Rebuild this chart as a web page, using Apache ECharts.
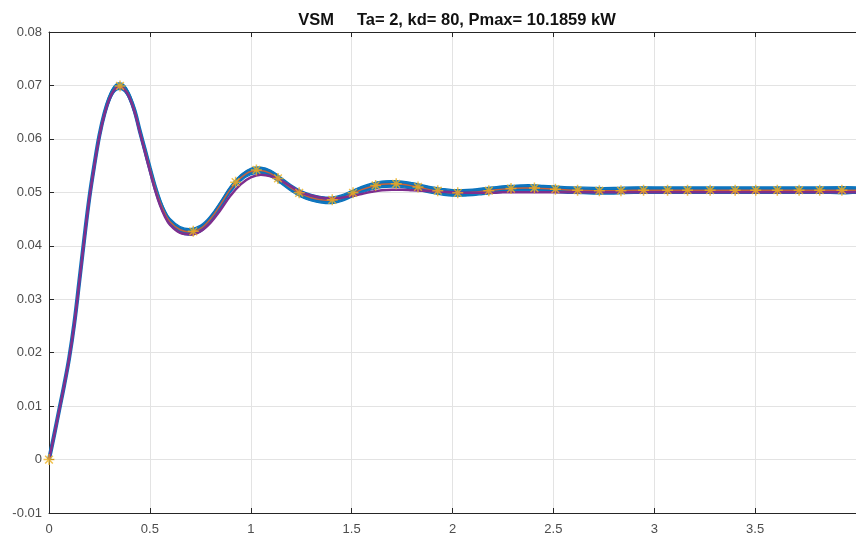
<!DOCTYPE html>
<html>
<head>
<meta charset="utf-8">
<script src="https://cdn.jsdelivr.net/npm/echarts@6/dist/echarts.min.js"></script>
<style>
  html, body { margin: 0; padding: 0; background: #fff; }
  #chart { width: 856px; height: 536px; }
</style>
</head>
<body>
<div id="chart"></div>
<script>
// Time samples (s)
const time = [0, 0.025, 0.05, 0.075, 0.1, 0.125, 0.15, 0.175, 0.2, 0.225, 0.25, 0.275, 0.3, 0.325, 0.35, 0.375, 0.4, 0.425, 0.45, 0.475, 0.5, 0.525, 0.55, 0.575, 0.6, 0.65, 0.7, 0.75, 0.8, 0.85, 0.9, 0.95, 1.0, 1.05, 1.1, 1.15, 1.2, 1.25, 1.3, 1.35, 1.4, 1.45, 1.5, 1.55, 1.6, 1.65, 1.7, 1.75, 1.8, 1.85, 1.9, 1.95, 2.0, 2.05, 2.1, 2.15, 2.2, 2.25, 2.3, 2.35, 2.4, 2.45, 2.5, 2.6, 2.7, 2.8, 2.9, 3.0, 3.2, 3.4, 3.6, 3.8, 4.0];

// VSM response (blue band and red trace)
const vsmResponse = [0, 0.0045, 0.0092, 0.0139, 0.0190, 0.0254, 0.0333, 0.0414, 0.0490, 0.0552, 0.0607, 0.0648, 0.0677, 0.0694, 0.0699, 0.0694, 0.0678, 0.0652, 0.0615, 0.0580, 0.0545, 0.0511, 0.0482, 0.0460, 0.0445, 0.0430, 0.0426, 0.0432, 0.0450, 0.0477, 0.0506, 0.0527, 0.0539, 0.0541, 0.0535, 0.0522, 0.0508, 0.0497, 0.0490, 0.0486, 0.0485, 0.0489, 0.0497, 0.0505, 0.0511, 0.0515, 0.0516, 0.0515, 0.0512, 0.0508, 0.0504, 0.0501, 0.0499, 0.0499, 0.0500, 0.0502, 0.0504, 0.0506, 0.0507, 0.0508, 0.0508, 0.0507, 0.0506, 0.0504, 0.0503, 0.0503, 0.0504, 0.0504, 0.0504, 0.0504, 0.0504, 0.0504, 0.0504];

// Reference model response (purple trace)
const modelResponse = [0, 0.0044, 0.0091, 0.0138, 0.0189, 0.0252, 0.0331, 0.0412, 0.0488, 0.0550, 0.0605, 0.0646, 0.0675, 0.0692, 0.0697, 0.0692, 0.0676, 0.0649, 0.0613, 0.0576, 0.0540, 0.0505, 0.0476, 0.0454, 0.0439, 0.0424, 0.0421, 0.0427, 0.0443, 0.0467, 0.0494, 0.0515, 0.0528, 0.0533, 0.0530, 0.0522, 0.0511, 0.0500, 0.0494, 0.0490, 0.0489, 0.0490, 0.0493, 0.0497, 0.0501, 0.0504, 0.0505, 0.0505, 0.0504, 0.0503, 0.0502, 0.0501, 0.0500, 0.0499, 0.0499, 0.0499, 0.0499, 0.0500, 0.0500, 0.0500, 0.0500, 0.0500, 0.0500, 0.0500, 0.0500, 0.0500, 0.0500, 0.0500, 0.0500, 0.0500, 0.0500, 0.0500, 0.0500];

// Solver output steps (star markers)
const stepTime = [0, 0.352, 0.715, 0.925, 1.028, 1.135, 1.24, 1.404, 1.507, 1.619, 1.721, 1.829, 1.927, 2.026, 2.18, 2.29, 2.406, 2.51, 2.62, 2.728, 2.835, 2.947, 3.066, 3.165, 3.277, 3.401, 3.503, 3.61, 3.718, 3.82, 3.93];
const stepValue = [0, 0.0699, 0.0427, 0.0519, 0.0542, 0.0526, 0.0499, 0.0486, 0.0499, 0.0513, 0.0516, 0.0510, 0.0503, 0.0499, 0.0503, 0.0507, 0.0508, 0.0506, 0.0504, 0.0503, 0.0503, 0.0504, 0.0504, 0.0504, 0.0504, 0.0504, 0.0504, 0.0504, 0.0504, 0.0504, 0.0504];

const xTicks = { min: 0, max: 4, interval: 0.5 };
const yTicks = { min: -0.01, max: 0.08, interval: 0.01 };

const zip = (xs, ys) => xs.map((x, i) => [x, ys[i]]);

// Half-height (px) of the dense-marker band drawn around the VSM trace
const bandHalfPx = 3.3;

const chart = echarts.init(document.getElementById('chart'), null, { renderer: 'canvas' });
const axisColor = '#262626';
const font = 'Liberation Sans, Arial, sans-serif';
const labelStyle = { color: '#4d4d4d', fontSize: 13, fontFamily: font };
const star = 'path://M0,-10L0,10M-10,0L10,0M-7,-7L7,7M-7,7L7,-7';
const blue = '#0a72bd';
const smooth = 0.4;

// Band polygon: upper edge left to right, lower edge right to left
function renderBand(params, api) {
  const pts = time.map((t, i) => api.coord([t, vsmResponse[i]]));
  const upper = pts.map(p => [p[0], p[1] - bandHalfPx]);
  const lower = pts.map(p => [p[0], p[1] + bandHalfPx]).reverse();
  return {
    type: 'group',
    children: [
      { type: 'polyline', shape: { points: upper, smooth: smooth }, style: { stroke: blue, lineWidth: 1.2, fill: null } },
      { type: 'polyline', shape: { points: lower, smooth: smooth }, style: { stroke: blue, lineWidth: 1.2, fill: null } },
      { type: 'polygon', shape: { points: upper.concat(lower), smooth: smooth }, style: { fill: blue, opacity: 0.95 } }
    ]
  };
}

chart.setOption({
  animation: false,
  title: {
    text: 'VSM     Ta= 2, kd= 80, Pmax= 10.1859 kW',
    left: 452, top: 7, textAlign: 'center',
    textStyle: { fontSize: 16.5, fontWeight: 'bold', color: '#111', fontFamily: font }
  },
  grid: { left: 49, top: 32, right: -1, bottom: 22, containLabel: false },
  xAxis: [{
    type: 'value', min: xTicks.min, max: xTicks.max, interval: xTicks.interval,
    axisLine: { show: true, onZero: false, lineStyle: { color: axisColor, width: 1 } },
    axisTick: { show: true, inside: true, length: 5, lineStyle: { color: axisColor } },
    axisLabel: { ...labelStyle, margin: 10, showMaxLabel: false, formatter: v => String(v) },
    splitLine: { show: true, lineStyle: { color: '#e3e3e3', width: 1 } }
  }, {
    type: 'value', position: 'top', min: xTicks.min, max: xTicks.max, interval: xTicks.interval,
    axisLine: { show: true, onZero: false, lineStyle: { color: axisColor, width: 1 } },
    axisTick: { show: true, inside: true, length: 5, lineStyle: { color: axisColor } },
    axisLabel: { show: false }, splitLine: { show: false }
  }],
  yAxis: {
    type: 'value', min: yTicks.min, max: yTicks.max, interval: yTicks.interval,
    axisLine: { show: true, onZero: false, lineStyle: { color: axisColor, width: 1 } },
    axisTick: { show: true, inside: true, length: 5, lineStyle: { color: axisColor } },
    axisLabel: { ...labelStyle, margin: 7, formatter: v => String(Math.round(v * 100) / 100) },
    splitLine: { show: true, lineStyle: { color: '#e3e3e3', width: 1 } }
  },
  series: [
    {
      name: 'band', type: 'custom', coordinateSystem: 'cartesian2d', renderItem: renderBand,
      data: [[time[0], vsmResponse[0]]], z: 1, silent: true, clip: true
    },
    {
      name: 'VSM', type: 'line', data: zip(time, vsmResponse), smooth, showSymbol: false,
      lineStyle: { color: blue, width: 4 }, z: 2
    },
    {
      name: 'VSM trace', type: 'line', data: zip(time, vsmResponse), smooth, showSymbol: false,
      lineStyle: { color: '#c8603a', width: 1.5 }, z: 3
    },
    {
      name: 'Model', type: 'line', data: zip(time, modelResponse), smooth, showSymbol: false,
      lineStyle: { color: '#7E2F8E', width: 2.5 }, z: 4
    },
    {
      name: 'Steps', type: 'scatter', data: zip(stepTime, stepValue),
      symbol: star, symbolSize: 11,
      itemStyle: { color: 'rgba(0,0,0,0)', borderColor: '#EDB120', borderWidth: 1.5 }, z: 5
    }
  ]
});
</script>
</body>
</html>
